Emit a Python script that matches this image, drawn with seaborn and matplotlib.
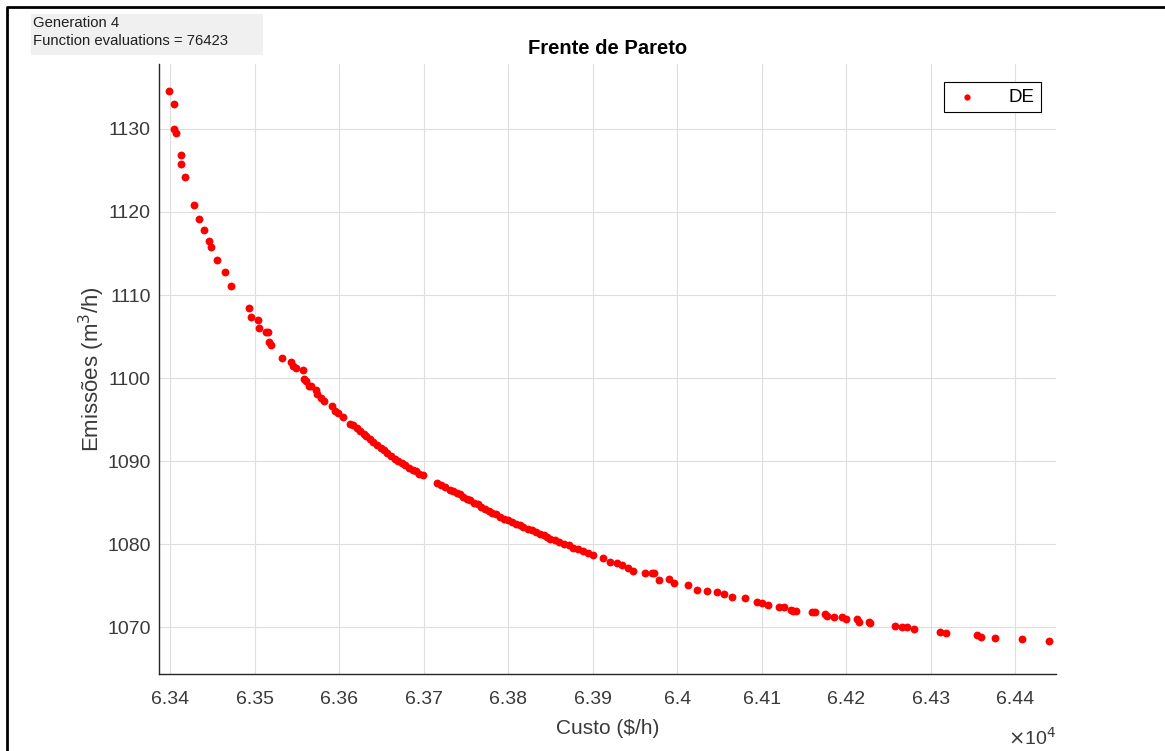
import matplotlib
matplotlib.use("Agg")
import matplotlib.pyplot as plt
import seaborn as sns
import pandas as pd
from matplotlib.lines import Line2D
from matplotlib.patches import Rectangle

# Pareto front points (Custo in $/h, Emissoes in m3/h)
custo = [
    63399, 63405, 63405, 63407, 63413, 63413, 63418, 63428, 63434, 63440,
    63446, 63448, 63456, 63465, 63472, 63493, 63496, 63504, 63505, 63514,
    63516, 63517, 63520, 63533, 63543, 63545, 63549, 63557, 63559, 63561,
    63564, 63567, 63573, 63574, 63579, 63582, 63592, 63595, 63599, 63605,
    63613, 63617, 63621, 63625, 63629,
    63632, 63636, 63640, 63645, 63649, 63653, 63657, 63662, 63666,
    63670, 63674, 63678, 63683, 63687, 63691, 63695, 63699,
    63716, 63720, 63725, 63731, 63735, 63739, 63743, 63747, 63751, 63755,
    63760, 63764, 63768, 63773, 63777, 63781, 63786, 63790,
    63795, 63800, 63805, 63809, 63814, 63818, 63823, 63828, 63833, 63838,
    63842, 63846, 63850, 63855, 63860, 63866, 63872, 63877, 63883, 63889,
    63894, 63900,
    63912, 63921, 63929, 63935, 63942, 63948, 63962, 63970, 63973, 63978,
    63990, 63996, 64013, 64023, 64035, 64047, 64055, 64065, 64080, 64094,
    64100, 64107, 64120, 64126, 64134, 64137, 64141, 64159, 64163, 64175,
    64177, 64185, 64195, 64200, 64213, 64215, 64227, 64228, 64257, 64266,
    64272, 64280, 64311, 64318, 64354, 64359, 64376, 64408, 64440,
]
emissoes = [
    1134.6, 1133.0, 1130.0, 1129.5, 1126.9, 1125.8, 1124.2, 1120.8, 1119.2, 1117.8,
    1116.5, 1115.8, 1114.2, 1112.8, 1111.1, 1108.4, 1107.4, 1107.0, 1106.0, 1105.6,
    1105.5, 1104.4, 1104.0, 1102.4, 1102.0, 1101.5, 1101.2, 1101.0, 1099.9, 1099.6,
    1099.1, 1099.0, 1098.6, 1098.1, 1097.6, 1097.3, 1096.6, 1096.1, 1095.8, 1095.3,
    1094.5, 1094.4, 1094.0, 1093.6, 1093.3,
    1093.0, 1092.7, 1092.3, 1091.9, 1091.6, 1091.3, 1091.0, 1090.6, 1090.3,
    1090.0, 1089.8, 1089.5, 1089.2, 1089.0, 1088.8, 1088.5, 1088.3,
    1087.4, 1087.2, 1086.9, 1086.6, 1086.4, 1086.2, 1086.0, 1085.7, 1085.5, 1085.3,
    1085.0, 1084.8, 1084.5, 1084.3, 1084.0, 1083.8, 1083.6, 1083.3,
    1083.1, 1082.9, 1082.7, 1082.5, 1082.3, 1082.1, 1081.9, 1081.7, 1081.5, 1081.3,
    1081.1, 1080.9, 1080.7, 1080.5, 1080.3, 1080.1, 1079.9, 1079.6, 1079.4, 1079.2,
    1079.0, 1078.7,
    1078.3, 1077.9, 1077.7, 1077.5, 1077.1, 1076.8, 1076.5, 1076.5, 1076.5, 1075.7,
    1075.8, 1075.4, 1075.1, 1074.5, 1074.4, 1074.3, 1074.0, 1073.7, 1073.6, 1073.1,
    1072.9, 1072.7, 1072.5, 1072.5, 1072.1, 1072.0, 1072.0, 1071.9, 1071.9, 1071.6,
    1071.4, 1071.3, 1071.2, 1071.0, 1071.0, 1070.7, 1070.7, 1070.5, 1070.2, 1070.0,
    1070.0, 1069.8, 1069.4, 1069.3, 1069.1, 1068.8, 1068.7, 1068.6, 1068.4,
]

x_ticks = [63400, 63500, 63600, 63700, 63800, 63900, 64000, 64100, 64200, 64300, 64400]
x_tick_labels = ['6.34', '6.35', '6.36', '6.37', '6.38', '6.39', '6.4',
                 '6.41', '6.42', '6.43', '6.44']
y_ticks = [1070, 1080, 1090, 1100, 1110, 1120, 1130]

sns.set_theme(style='whitegrid')
plt.rcParams['font.family'] = ['Liberation Sans', 'DejaVu Sans']

W, H = 1165, 751
fig = plt.figure(figsize=(W / 100, H / 100), dpi=100)
fig.patch.set_facecolor('white')

ax = fig.add_axes([159 / W, 1 - 674 / H, (1056 - 159) / W, (674 - 64) / H])
ax.set_facecolor('white')

df = pd.DataFrame({'Custo': custo, 'Emissoes': emissoes})
sns.scatterplot(data=df, x='Custo', y='Emissoes', color='#ff0000', s=32,
                linewidth=0, label='DE', ax=ax)

ax.set_xlim(63387, 64448)
ax.set_ylim(1064.4, 1137.8)
ax.set_xticks(x_ticks)
ax.set_xticklabels(x_tick_labels)
ax.set_yticks(y_ticks)

ax.grid(True, color='#dedede', linewidth=0.8)
for side in ['top', 'right']:
    ax.spines[side].set_visible(False)
for side in ['left', 'bottom']:
    ax.spines[side].set_color('#262626')
    ax.spines[side].set_linewidth(1.0)
ax.tick_params(direction='in', length=6, width=0.8, color='#262626',
               labelsize=14, labelcolor='#3a3a3a')
ax.tick_params(axis='x', pad=12)
ax.tick_params(axis='y', pad=6)

ax.set_title('Frente de Pareto', fontsize=14.5, fontweight='bold', color='black', pad=7)
ax.set_xlabel('Custo ($/h)', fontsize=15, color='#3a3a3a', labelpad=8)
ax.set_ylabel('Emissões (m$^3$/h)', fontsize=16, color='#3a3a3a', labelpad=0)
ax.text(1.0, -0.086, r'$\times$10$^4$', transform=ax.transAxes, ha='right', va='top',
        fontsize=14, color='#3a3a3a')

leg = ax.legend(loc='upper right', bbox_to_anchor=(1041 / W, 1 - 82 / H),
                bbox_transform=fig.transFigure, borderaxespad=0, fancybox=False,
                framealpha=1, edgecolor='black', fontsize=13.5, handletextpad=1.3,
                borderpad=0.35, handlelength=1.8, markerscale=0.8)
leg.get_frame().set_linewidth(0.8)
for t in leg.get_texts():
    t.set_color('black')

# info box in the top left corner
fig.add_artist(Rectangle((31 / W, 1 - 55 / H), 232 / W, 41 / H, transform=fig.transFigure,
                         facecolor='#f0f0f0', edgecolor='none'))
fig.text(33 / W, 1 - 16 / H, 'Generation 4\nFunction evaluations = 76423',
         ha='left', va='top', fontsize=10.7, color='#202020', linespacing=1.4)

# frame around the figure (left and top edges)
fig.add_artist(Line2D([7 / W, 7 / W, 1], [0, 1 - 7 / H, 1 - 7 / H],
                      transform=fig.transFigure, color='black', linewidth=2))

fig.savefig('out.png', dpi=100)
